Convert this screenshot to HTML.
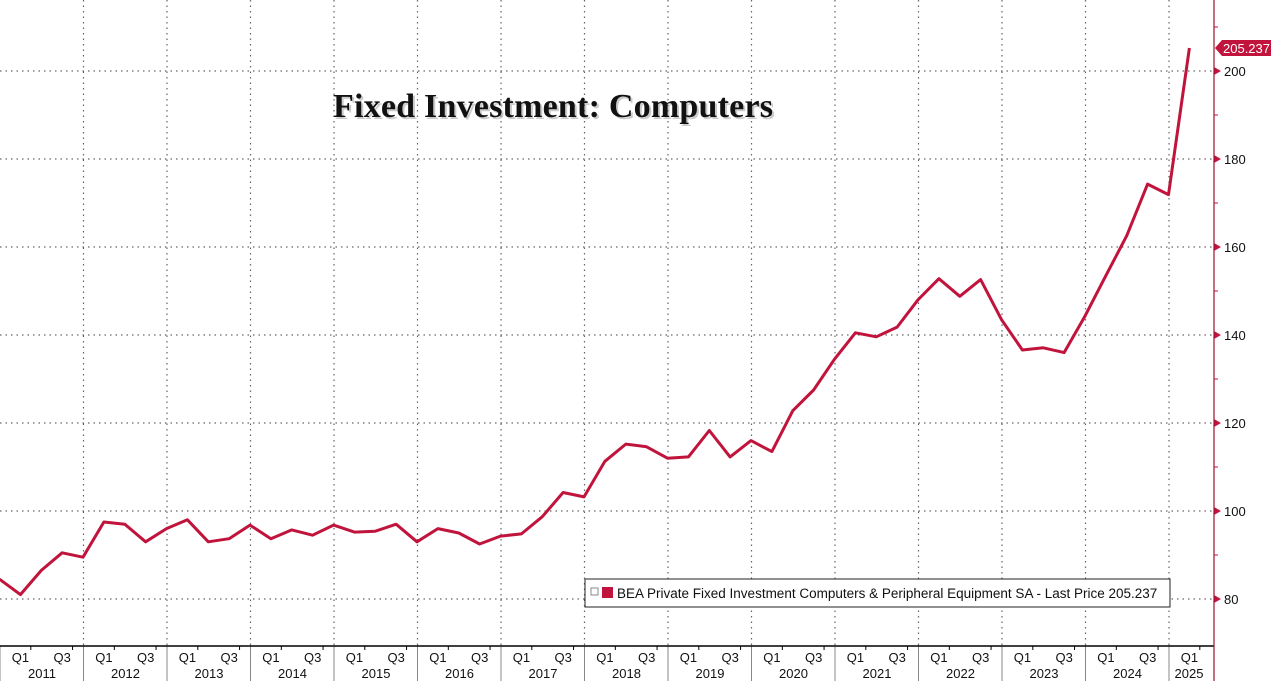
<!DOCTYPE html>
<html><head><meta charset="utf-8"><style>
body{margin:0;background:#fff;}
svg{display:block;font-family:"Liberation Sans",sans-serif;}
</style></head><body>
<svg width="1271" height="681" viewBox="0 0 1271 681">
<g id="grid"></g>
<g id="axes"></g>
<text x="335" y="119" font-family="Liberation Serif" font-weight="bold" font-size="34" fill="#999" opacity="0.5" textLength="440">Fixed Investment: Computers</text>
<text x="333" y="117" font-family="Liberation Serif" font-weight="bold" font-size="34" fill="#111" textLength="440">Fixed Investment: Computers</text>
<path id="line" fill="none" stroke="#c0143c" stroke-width="3" stroke-linejoin="round"/>
<g id="legend">
<rect x="585" y="579" width="585" height="28" fill="#fff" stroke="#222" stroke-width="1"/>
<rect x="591" y="588" width="7" height="7" fill="none" stroke="#888" stroke-width="1"/>
<rect x="602" y="587" width="11" height="11" fill="#c0143c"/>
<text x="617" y="598" font-size="13.5" fill="#111">BEA Private Fixed Investment Computers &amp; Peripheral Equipment SA - Last Price 205.237</text>
</g>
<g id="last"></g>
</svg>
<script>
const quarters=["Q4'10","Q1'11","Q2'11","Q3'11","Q4'11","Q1'12","Q2'12","Q3'12","Q4'12","Q1'13","Q2'13","Q3'13","Q4'13","Q1'14","Q2'14","Q3'14","Q4'14","Q1'15","Q2'15","Q3'15","Q4'15","Q1'16","Q2'16","Q3'16","Q4'16","Q1'17","Q2'17","Q3'17","Q4'17","Q1'18","Q2'18","Q3'18","Q4'18","Q1'19","Q2'19","Q3'19","Q4'19","Q1'20","Q2'20","Q3'20","Q4'20","Q1'21","Q2'21","Q3'21","Q4'21","Q1'22","Q2'22","Q3'22","Q4'22","Q1'23","Q2'23","Q3'23","Q4'23","Q1'24","Q2'24","Q3'24","Q4'24","Q1'25"];
const values=[84.5,81,86.5,90.5,89.5,97.5,97,93,96,98,93,93.7,96.8,93.7,95.7,94.5,96.8,95.2,95.4,97,93,96,95,92.5,94.3,94.8,98.7,104.2,103.2,111.3,115.2,114.6,112,112.3,118.3,112.3,116,113.5,122.8,127.5,134.5,140.5,139.6,141.8,148,152.8,148.8,152.6,143.5,136.6,137.1,136,144.3,153.5,162.6,174.3,171.9,205.237];
const years=["2011","2012","2013","2014","2015","2016","2017","2018","2019","2020","2021","2022","2023","2024","2025"];
const yTicks=[80,100,120,140,160,180,200];
const yMinor=[90,110,130,150,170,190,210];
const NS="http://www.w3.org/2000/svg";
const yearW=83.5, qW=yearW/4;
const X=i=>-0.5+i*qW;
const Y=v=>599-(v-80)*4.4;
const axisY=646, rightX=1214;
function mk(tag,attrs,parent){const e=document.createElementNS(NS,tag);for(const k in attrs)e.setAttribute(k,attrs[k]);parent.appendChild(e);return e;}
const grid=document.getElementById('grid'), axes=document.getElementById('axes');
yTicks.forEach(v=>{
  const l=mk('line',{x1:0,x2:rightX,y1:Y(v),y2:Y(v),stroke:'#666','stroke-width':1.2,'stroke-dasharray':'1.5 4'},grid);
  
  
  const p=mk('path',{d:`M${rightX} ${Y(v)-4}l7 4l-7 4z`,fill:'#c0143c'},axes);
  const t=mk('text',{x:rightX+10,y:Y(v)+5,'font-size':13,fill:'#111'},axes);
  t.textContent=v;
  
  
});
yMinor.forEach(v=>{mk('line',{x1:rightX,x2:rightX+4,y1:Y(v),y2:Y(v),stroke:'#c0143c'},axes);});
years.forEach((yr,k)=>{
  const bx=k*yearW;
  if(k>0){const g=mk('line',{x1:bx,x2:bx,y1:0,y2:axisY,stroke:'#666','stroke-width':1.2,'stroke-dasharray':'1.5 4'},grid);
    
    }
  mk('line',{x1:bx,x2:bx,y1:axisY,y2:681,stroke:'#888'},axes);
  const qs=k===years.length-1?["Q1"]:["Q1","Q3"];
  qs.forEach((q,j)=>{const qx=bx+qW*(1+2*j)-0.5;
    mk('line',{x1:qx+qW/2,x2:qx+qW/2,y1:axisY,y2:axisY+4,stroke:'#000'},axes);
    const t=mk('text',{x:qx,y:662,'font-size':13,'text-anchor':'middle',fill:'#111'},axes);t.textContent=q;
    
    });
  const t=mk('text',{x:k===years.length-1?bx+20:bx+42,y:678,'font-size':13,'text-anchor':'middle',fill:'#111'},axes);
  t.textContent=yr;
  
  
});
mk('line',{x1:0,x2:rightX,y1:axisY,y2:axisY,stroke:'#000','stroke-width':1.5},axes);
mk('line',{x1:rightX,x2:rightX,y1:0,y2:681,stroke:'#a01030','stroke-width':1.2},axes);
document.getElementById('line').setAttribute('d',values.map((v,i)=>(i?'L':'M')+X(i).toFixed(1)+' '+Y(v).toFixed(1)).join(''));
const last=values[values.length-1], ly=Y(last), lg=document.getElementById('last');
mk('path',{d:`M${rightX+1} ${ly}l7 -8h58v16h-58z`,fill:'#c0143c'},lg);
const lt=mk('text',{x:rightX+9,y:ly+5,'font-size':13,fill:'#fff'},lg);lt.textContent=last.toFixed(3);
</script>
</body></html>
